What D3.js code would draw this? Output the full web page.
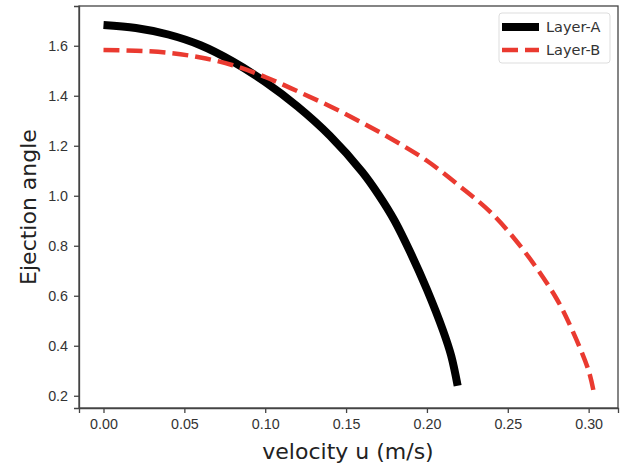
<!doctype html>
<html>
<head>
    <meta http-equiv="Content-type" content="text/html; charset=utf-8"/>
    <script src="https://d3js.org/d3.v7.min.js"></script>
    <style>
        body { margin: 0; background: #fff; }
        svg { display: block; font-family: "DejaVu Sans", sans-serif; }
        .axis text { fill: #333; font-size: 14.3px; }
        .axis path, .axis line { stroke: #444; stroke-width: 1.3; }
    </style>
</head>
<body>
    <svg width="627" height="466"></svg>

    <script>
        // data
        var layerA_u = [0, 0.02, 0.04, 0.06, 0.08, 0.10, 0.12, 0.14, 0.16, 0.17, 0.18, 0.19, 0.20, 0.21, 0.215, 0.219];
        var layerA_v = [1.683, 1.671, 1.645, 1.602, 1.537, 1.455, 1.357, 1.24, 1.095, 1.005, 0.90, 0.77, 0.625, 0.46, 0.36, 0.24];
        var layerB_u = [0, 0.02, 0.04, 0.06, 0.08, 0.10, 0.12, 0.14, 0.16, 0.18, 0.20, 0.22, 0.24, 0.26, 0.28, 0.29, 0.30, 0.303];
        var layerB_v = [1.583, 1.580, 1.572, 1.553, 1.522, 1.475, 1.418, 1.358, 1.292, 1.22, 1.14, 1.04, 0.93, 0.78, 0.59, 0.46, 0.30, 0.22];
        var xTicks = [0, 0.05, 0.10, 0.15, 0.20, 0.25, 0.30];
        var yTicks = [0.2, 0.4, 0.6, 0.8, 1.0, 1.2, 1.4, 1.6];
        var seriesNames = ["Layer-A", "Layer-B"];

        var svg = d3.select("svg");
        var margin = {left: 79, top: 6, right: 9, bottom: 58};
        var W = 627, H = 466;

        var x = d3.scaleLinear().domain([-0.01515, 0.31815]).range([margin.left, W - margin.right]);
        var y = d3.scaleLinear().domain([0.151, 1.759]).range([H - margin.bottom, margin.top]);

        // frame
        svg.append("rect")
            .attr("x", margin.left).attr("y", margin.top)
            .attr("width", W - margin.right - margin.left)
            .attr("height", H - margin.bottom - margin.top)
            .attr("fill", "none").attr("stroke", "#444").attr("stroke-width", 1.3);

        svg.append("g").attr("class", "axis")
            .attr("transform", "translate(0," + (H - margin.bottom) + ")")
            .call(d3.axisBottom(x).tickValues(xTicks).tickFormat(d3.format(".2f")).tickSizeOuter(0).tickSize(5).tickPadding(6));

        svg.append("g").attr("class", "axis")
            .attr("transform", "translate(" + margin.left + ",0)")
            .call(d3.axisLeft(y).tickValues(yTicks).tickFormat(d3.format(".1f")).tickSizeOuter(0).tickSize(5).tickPadding(6));

        var line = d3.line()
            .x(function(d) { return x(d[0]); })
            .y(function(d) { return y(d[1]); })
            .curve(d3.curveCatmullRom.alpha(0.5));

        var dataA = layerA_u.map(function(u, i) { return [u, layerA_v[i]]; });
        var dataB = layerB_u.map(function(u, i) { return [u, layerB_v[i]]; });

        svg.append("path").datum(dataA)
            .attr("d", line)
            .attr("fill", "none").attr("stroke", "#000").attr("stroke-width", 8);

        svg.append("path").datum(dataB)
            .attr("d", line)
            .attr("fill", "none").attr("stroke", "#ea3a30").attr("stroke-width", 4.5)
            .attr("stroke-dasharray", "16,7");

        // axis labels
        svg.append("text")
            .attr("x", 348).attr("y", 459)
            .attr("text-anchor", "middle")
            .attr("font-size", 22).attr("fill", "#222")
            .text("velocity u (m/s)");

        svg.append("text")
            .attr("transform", "translate(36,207) rotate(-90)")
            .attr("text-anchor", "middle")
            .attr("font-size", 22).attr("fill", "#222")
            .text("Ejection angle");

        // legend
        var leg = svg.append("g");
        leg.append("rect")
            .attr("x", 499).attr("y", 13).attr("width", 111).attr("height", 50)
            .attr("rx", 3).attr("fill", "#fff").attr("stroke", "#ddd").attr("stroke-width", 1);

        leg.selectAll("line").data(seriesNames).enter().append("line")
            .attr("x1", 502).attr("x2", 539)
            .attr("y1", function(d, i) { return 27 + i * 23; })
            .attr("y2", function(d, i) { return 27 + i * 23; })
            .attr("stroke", function(d, i) { return i === 0 ? "#000" : "#ea3a30"; })
            .attr("stroke-width", function(d, i) { return i === 0 ? 8 : 4.5; })
            .attr("stroke-dasharray", function(d, i) { return i === 0 ? null : "16,7"; });

        leg.selectAll("text").data(seriesNames).enter().append("text")
            .attr("x", 546)
            .attr("y", function(d, i) { return 32 + i * 23; })
            .attr("font-size", 14.5).attr("fill", "#333")
            .text(function(d) { return d; });
    </script>
</body>
</html>
